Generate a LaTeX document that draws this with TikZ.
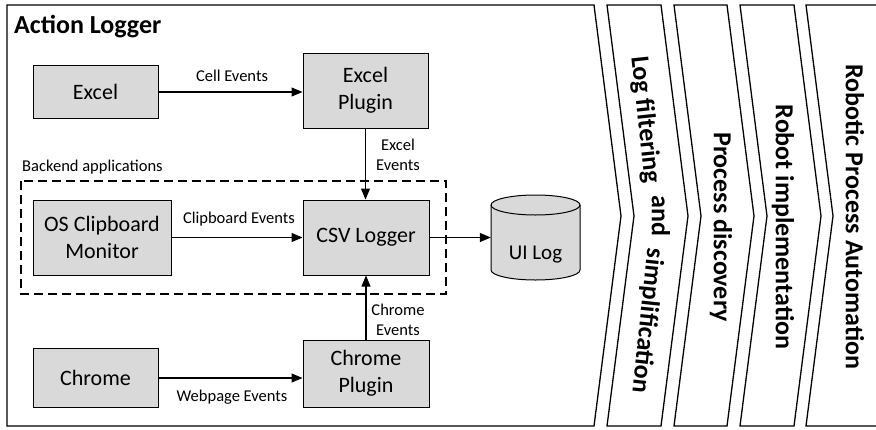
\documentclass[tikz,border=0pt]{standalone}
\usepackage{fontspec}
\setmainfont{Carlito}
\usetikzlibrary{arrows.meta}
\definecolor{boxgray}{HTML}{D9D9D9}
\begin{document}
\begin{tikzpicture}[x=1pt,y=-1pt,
  box/.style={draw=black, line width=1pt, fill=boxgray, minimum width=125pt, align=center, font=\fontsize{22}{27}\selectfont, inner sep=0pt},
  lbl/.style={font=\fontsize{16.5}{20}\selectfont, align=center, inner sep=0pt},
  arr/.style={line width=1.1pt, -{Triangle[length=11pt,width=9pt]}},
  chev/.style={draw=black, line width=1.3pt, line join=miter},
  ctext/.style={font=\bfseries\fontsize{26}{30}\selectfont, inner sep=0pt},
  dashbox/.style={draw=black, line width=1.3pt, dash pattern=on 9pt off 5pt}]
\useasboundingbox (0,0) rectangle (876,429);
\fill[white] (0,0) rectangle (876,429);
% chevrons
\draw[chev] (7,5) -- (594,5) -- (621,216) -- (594,426) -- (7,426) -- cycle;
\draw[chev] (607,5) -- (661,5) -- (688,216) -- (661,426) -- (607,426) -- (634,216) -- cycle;
\draw[chev] (674,5) -- (727,5) -- (754,216) -- (727,426) -- (674,426) -- (701,216) -- cycle;
\draw[chev] (740,5) -- (794,5) -- (821,216) -- (794,426) -- (740,426) -- (767,216) -- cycle;
\draw[chev] (890,5) -- (806,5) -- (833,216) -- (806,426) -- (890,426);
% chevron texts
\node[ctext, rotate=-84] (lf1) at (645,120) {Log filtering};
\node[ctext, rotate=-90] (lf2) at (661,216) {and};
\node[ctext, rotate=-96] (lf3) at (647,321) {simplification};
\node[ctext, rotate=-90] (pd) at (721,227) {Process discovery};
\node[ctext, rotate=-90] (ri) at (783,227) {Robot implementation};
\node[ctext, rotate=-90] (rpa) at (855,217) {Robotic Process Automation};
% title
\node[font=\bfseries\fontsize{26}{30}\selectfont, anchor=west, inner sep=0pt] (title) at (14,27) {Action Logger};
% backend box
\draw[dashbox] (21,181) rectangle (446,294);
\node[lbl, anchor=west] (backend) at (22,167) {Backend applications};
% boxes
\node[box, minimum height=53pt] (excel) at (95.5,92) {Excel};
\node[box, minimum height=75pt] (excelplugin) at (365.5,90.5) {Excel\\Plugin};
\node[box, minimum width=138pt, minimum height=75pt] (osclip) at (102,237.5) {OS Clipboard\\Monitor};
\node[box, minimum width=126pt, minimum height=75pt] (csv) at (366,237.5) {CSV Logger};
\node[box, minimum height=59pt] (chrome) at (95.5,378) {Chrome};
\node[box, minimum width=126pt, minimum height=67pt] (chromeplugin) at (366,373.5) {Chrome\\Plugin};
% UI log cylinder
\node[minimum width=89pt, minimum height=65pt, inner sep=0pt] (uilog) at (535.5,237.5) {};
\draw[line width=1pt, fill=boxgray] (491,205) -- (491,270) arc[start angle=180, end angle=360, x radius=44.5pt, y radius=10pt] -- (580,205);
\draw[line width=1pt, fill=boxgray] (535.5,205) ellipse [x radius=44.5pt, y radius=10pt];
\node[font=\fontsize{21}{25}\selectfont, inner sep=0pt] (uitext) at (535.5,255) {UI Log};
% arrows
\draw[arr] (excel.east) -- (excel.east -| excelplugin.west);
\draw[arr] (excelplugin.south) -- (excelplugin.south |- csv.north);
\draw[arr] (osclip.east) -- (csv.west);
\draw[arr] (chromeplugin.north) -- (csv.south);
\draw[arr] (chrome.east) -- (chrome.east -| chromeplugin.west);
\draw[arr] (csv.east) -- (uilog.west);
% labels
\node[lbl] (l1) at (232,76) {Cell Events};
\node[lbl] (l2) at (398,155) {Excel\\Events};
\node[lbl] (l3) at (239,219) {Clipboard Events};
\node[lbl] (l4) at (398,320) {Chrome\\Events};
\node[lbl] (l5) at (232,397) {Webpage Events};
\end{tikzpicture}
\end{document}
